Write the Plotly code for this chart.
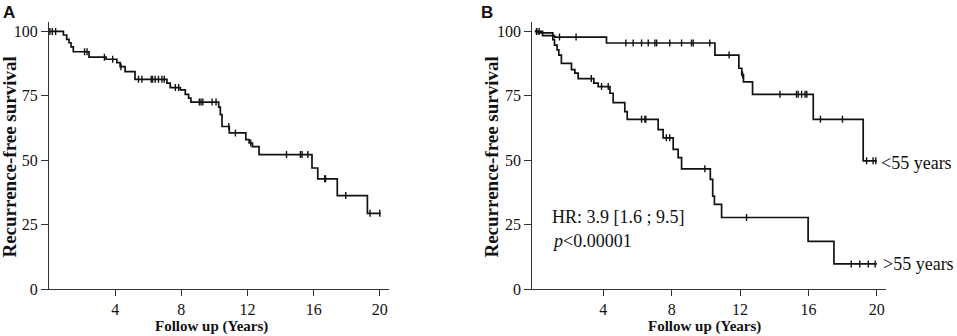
import numpy as np
import plotly.graph_objects as go

# ---------------- data ----------------
# Panel A: overall recurrence-free survival
a_event_t = [0.87, 1.07, 1.21, 1.33, 1.47, 2.42, 3.45, 4.1, 4.3, 4.6, 5.2, 7.13, 7.33, 7.94,
             8.24, 8.44, 8.58, 10.26, 10.36, 10.46, 10.9, 11.9, 12.1, 12.3, 12.7, 15.9,
             16.25, 17.43, 19.25]
a_event_s = [98.6, 96.9, 95.6, 94.0, 92.1, 90.0, 89.2, 87.9, 86.3, 84.4, 81.4, 79.9, 78.2, 77.3,
             75.6, 74.1, 72.6, 70.6, 67.7, 63.1, 60.6, 58.0, 56.7, 55.3, 52.2, 47.0,
             42.8, 36.3, 29.4]
a_censor_t = [0.05, 0.2, 0.4, 2.15, 2.3, 3.35, 3.85, 4.35, 5.41, 5.62, 6.18, 6.26, 6.42, 6.62,
              6.83, 6.97, 7.64, 7.84, 9.09, 9.19, 9.3, 9.86, 10.1, 10.87, 11.27, 12.2, 14.36,
              15.2, 15.3, 15.65, 16.67, 16.72, 17.94, 19.41, 20.0]
a_end = 20.05

# Panel B: <55 years
young_event_t = [0.45, 1.15, 4.19, 10.53, 11.93, 12.1, 12.2, 12.73, 16.28, 19.2]
young_event_s = [98.4, 97.8, 95.5, 90.8, 85.7, 83.1, 80.4, 75.6, 65.9, 49.8]
young_censor_t = [0.1, 0.25, 1.44, 2.41, 5.32, 5.75, 6.24, 6.63, 7.02, 7.12, 7.89, 8.58, 9.16,
                  9.26, 10.23, 11.36, 12.15, 14.33, 15.3, 15.4, 15.6, 15.8, 15.9, 16.7, 17.99,
                  19.4, 19.78, 19.94]
young_end = 20.0

# Panel B: >55 years
old_event_t = [0.2, 1.05, 1.15, 1.3, 1.4, 1.55, 2.14, 2.34, 2.53, 3.45, 3.7, 4.39, 4.58, 5.26,
               5.4, 7.21, 7.5, 8.09, 8.38, 8.58, 10.26, 10.4, 10.5, 10.92, 15.98, 17.49]
old_event_s = [99.4, 96.8, 94.7, 92.8, 90.8, 87.6, 85.2, 83.8, 81.7, 79.9, 78.6, 76.0, 72.4, 68.9,
               65.9, 61.9, 58.7, 54.2, 51.0, 46.7, 42.6, 36.1, 32.9, 27.8, 18.5, 9.8]
old_censor_t = [0.1, 3.3, 3.9, 4.29, 6.24, 6.43, 6.49, 7.69, 7.89, 9.94, 12.38, 18.5, 19.0,
                19.5, 19.9]
old_end = 20.0

x_ticks = [4, 8, 12, 16, 20]
y_ticks = [0, 25, 50, 75, 100]

hr_text = "HR: 3.9 [1.6 ; 9.5]"
p_text = "<i>p</i>&lt;0.00001"
young_label = "&lt;55 years"
old_label = "&gt;55 years"
y_title = "Recurrence-free survival"
x_title = "Follow up (Years)"

# ---------------- helpers ----------------
def step_path(t, s, end):
    xs = [0.0] + list(t) + [end]
    ys = [100.0] + list(s) + [s[-1]]
    return xs, ys

def surv_at(t, s, ct):
    t = np.asarray(t)
    s = np.asarray([100.0] + list(s))
    idx = np.searchsorted(t, np.asarray(ct), side="right")
    return s[idx]

W, H = 957, 336          # reference pixel frame used for placement
H_FIG = 344              # layout height (compensates vertical squeeze seen in capture)
SERIF = "Liberation Serif, Times New Roman, serif"
SANS = "Liberation Sans, Arial, sans-serif"
INK = "#111111"
AX = "#333333"

fig = go.Figure()

def add_curve(t, s, ct, end, xa, ya):
    xs, ys = step_path(t, s, end)
    fig.add_trace(go.Scatter(x=xs, y=ys, mode="lines", line=dict(color=INK, width=1.7, shape="hv"),
                             xaxis=xa, yaxis=ya, showlegend=False, hoverinfo="skip"))
    fig.add_trace(go.Scatter(x=ct, y=surv_at(t, s, ct), mode="markers",
                             marker=dict(symbol="line-ns", size=5, color=INK,
                                         line=dict(width=1.4, color=INK)),
                             xaxis=xa, yaxis=ya, showlegend=False, hoverinfo="skip"))

add_curve(a_event_t, a_event_s, a_censor_t, a_end, "x", "y")
add_curve(young_event_t, young_event_s, young_censor_t, young_end, "x2", "y2")
add_curve(old_event_t, old_event_s, old_censor_t, old_end, "x2", "y2")

y_bottom_px, y_top_px = 290.0, 21.7
y_dom = [1 - y_bottom_px / H, 1 - y_top_px / H]
y_rng = [0, (y_bottom_px - y_top_px) / 2.585]

axis_common_x = dict(showline=True, linecolor=AX, linewidth=1, ticks="outside", ticklen=6,
                     tickcolor=AX, tickwidth=1, showgrid=False, zeroline=False,
                     tickvals=x_ticks, tickfont=dict(family=SERIF, size=16, color=INK),
                     fixedrange=True)
axis_common_y = dict(showline=True, linecolor=AX, linewidth=1, ticks="outside", ticklen=7,
                     tickcolor=AX, tickwidth=1, showgrid=False, zeroline=False,
                     tickvals=y_ticks, tickfont=dict(family=SERIF, size=16, color=INK),
                     range=y_rng, domain=y_dom, fixedrange=True)

fig.update_layout(
    width=W, height=H_FIG, margin=dict(l=0, r=0, t=0, b=0),
    paper_bgcolor="white", plot_bgcolor="white",
    xaxis=dict(domain=[49 / W, 389 / W], range=[0, 340 / 16.54], anchor="y", **axis_common_x),
    yaxis=dict(anchor="x", **axis_common_y),
    xaxis2=dict(domain=[532.3 / W, 886 / W], range=[-0.15, -0.15 + 353.7 / 17.1], anchor="y2",
                **axis_common_x),
    yaxis2=dict(anchor="x2", **axis_common_y),
)

def px_ann(text, x, y, xanchor="center", yanchor="middle", size=16, family=SERIF, bold=False,
           angle=0):
    fig.add_annotation(text=f"<b>{text}</b>" if bold else text, x=x / W, y=1 - y / H,
                       xref="paper", yref="paper", xanchor=xanchor, yanchor=yanchor,
                       showarrow=False, textangle=angle, borderpad=0,
                       font=dict(family=family, size=size, color=INK))

px_ann("A", 2, 2, "left", "top", size=17, family=SANS, bold=True)
px_ann("B", 480, 2, "left", "top", size=17, family=SANS, bold=True)
px_ann(y_title, 10, 158, size=19, bold=True, angle=-90)
px_ann(y_title, 492, 158, size=19, bold=True, angle=-90)
px_ann(x_title, 211, 327, size=15, bold=True)
px_ann(x_title, 704, 327, size=15, bold=True)
px_ann(hr_text, 551, 218, "left", size=18)
px_ann(p_text, 551, 242, "left", size=18)
px_ann(young_label, 880, 163, "left", size=18)
px_ann(old_label, 882, 265, "left", size=18)

post = ("var s=document.documentElement.style;s.margin='0';s.padding='0';"
        "var b=document.body.style;b.margin='0';b.padding='0';")
fig.write_html("out.html", config={"displayModeBar": False, "staticPlot": True},
               post_script=post)
